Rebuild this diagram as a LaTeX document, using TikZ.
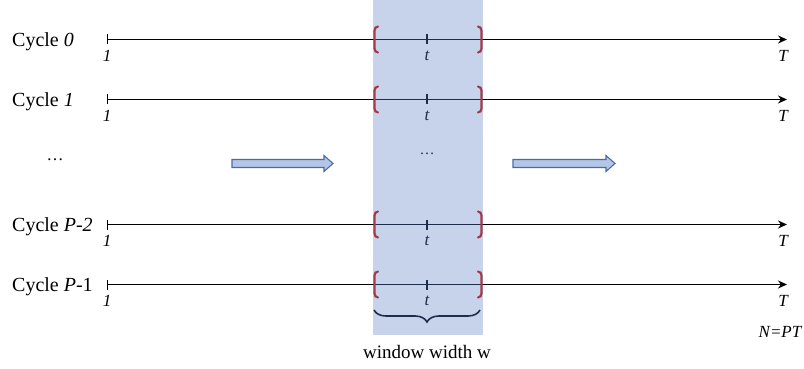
\documentclass[tikz,border=0pt]{standalone}
\usepackage{fontspec}
\setmainfont{Liberation Serif}
\usetikzlibrary{arrows.meta,decorations.pathreplacing,calc}
\definecolor{bandblue}{HTML}{C7D3EA}
\definecolor{navy}{HTML}{1F2D4D}
\definecolor{brkred}{HTML}{A33B4B}
\definecolor{arrfill}{HTML}{B4C6E7}
\definecolor{arrline}{HTML}{4A6CA6}
\tikzset{
  axisline/.style={line width=1.3pt, arrows={{Bar[width=10pt,line width=1pt]}-{Stealth[length=9pt,width=8pt]}}},
  bandline/.style={line width=1.3pt, draw=navy},
  tickmark/.style={line width=1.1pt, draw=navy},
  brk/.style={line width=2.2pt, draw=brkred, line cap=round},
  cyc/.style={font=\fontsize{20}{24}\selectfont, inner sep=0pt},
  lbl/.style={font=\fontsize{17}{20}\selectfont\itshape, inner sep=0pt},
  blockarr/.style={fill=arrfill, draw=arrline, line width=1.1pt, line join=miter},
  curly/.style={draw=navy, line width=1.6pt, decorate,
    decoration={brace, mirror, amplitude=12pt}},
  lbrk/.pic={\draw[brk] (3.5,-13) to[out=180,in=90] (0,-9) -- (0,9) to[out=-90,in=180] (3.5,13);},
  rbrk/.pic={\draw[brk] (-3.5,-13) to[out=0,in=90] (0,-9) -- (0,9) to[out=-90,in=0] (-3.5,13);}
}
\begin{document}
\begin{tikzpicture}[x=1pt,y=-1pt]
\useasboundingbox (0,0) rectangle (804,369);
% sliding window band
\fill[bandblue] (373,0) rectangle (483,335);

% one time axis per cycle
\foreach \y/\lab/\i in {39.5/{Cycle \textit{0}}/0,
                        99.5/{Cycle \textit{1}}/1,
                        224.5/{Cycle \textit{P-2}}/2,
                        284.5/{Cycle \textit{P}-1}/3}{
  \coordinate (s\i) at (107,\y);
  \coordinate (e\i) at (787,\y);
  \coordinate (wl\i) at (374.5,\y);
  \coordinate (wr\i) at (481.5,\y);
  \coordinate (tt\i) at (427,\y-5);
  \coordinate (tb\i) at (427,\y+5);
  \node[cyc, anchor=base west] (c\i) at (12,\y+7) {\lab};
  \draw[axisline] (s\i) -- (e\i);
  \draw[bandline] (wl\i) -- (wr\i);
  \draw[tickmark] (tt\i) -- (tb\i);
  \pic at (wl\i) {lbrk};
  \pic at (wr\i) {rbrk};
  \node[lbl] (one\i) at (107,\y+16) {1};
  \node[lbl, text=navy] (t\i) at (427,\y+16) {t};
  \node[lbl] (T\i) at (783,\y+16) {T};
}

% elided cycles
\node[cyc, font=\fontsize{17}{20}\selectfont] (dl) at (55,160) {…};
\node[cyc, font=\fontsize{15}{18}\selectfont, text=navy] (dm) at (427,154) {…};

% sliding direction arrows
\draw[blockarr] (232,159.5) -- (324,159.5) -- (324,155.5) -- (333,163.5)
  -- (324,171.5) -- (324,167.5) -- (232,167.5) -- cycle;
\draw[blockarr] (513,159.5) -- (606,159.5) -- (606,155.5) -- (615,163.5)
  -- (606,171.5) -- (606,167.5) -- (513,167.5) -- cycle;

% window width brace
\coordinate (bl) at (374,310);
\coordinate (br) at (480,310);
\draw[curly] (bl) -- (br);
\node[cyc, font=\fontsize{19}{22}\selectfont] (ww) at (427,352) {window width w};

\node[lbl] (npt) at (780,332) {N=PT};
\end{tikzpicture}
\end{document}
